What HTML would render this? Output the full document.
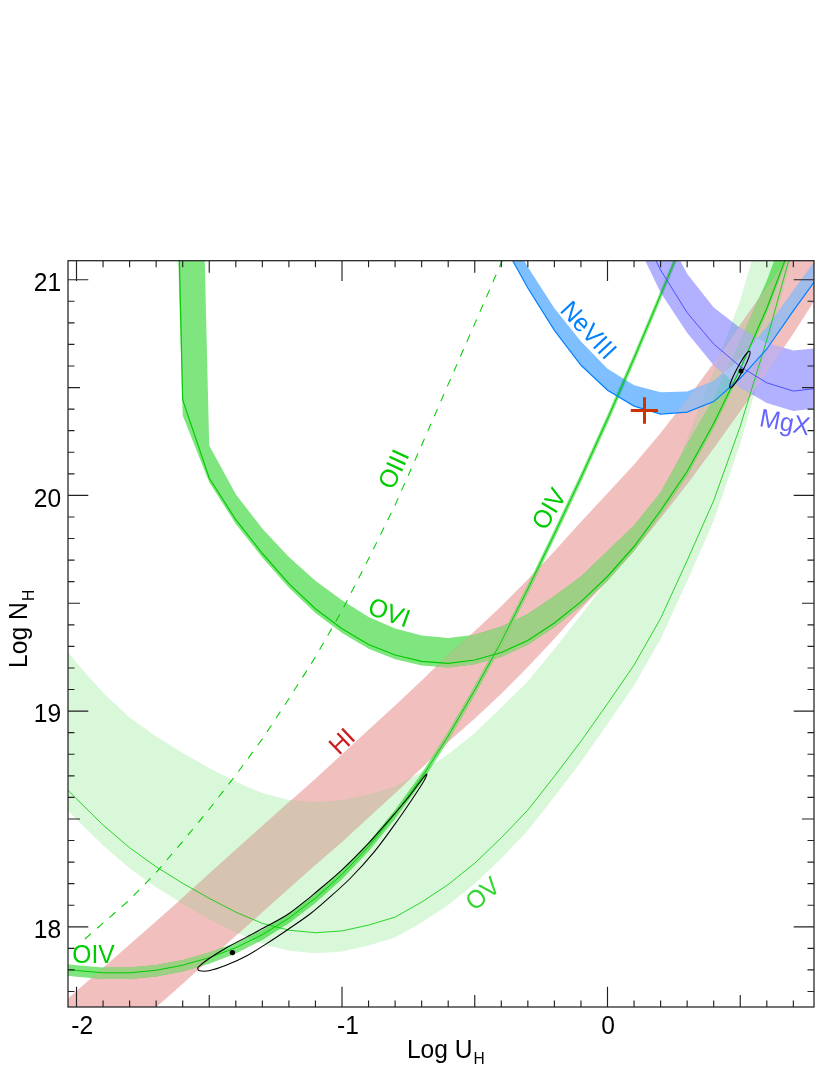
<!DOCTYPE html>
<html><head><meta charset="utf-8"><title>Log N_H vs Log U_H</title>
<style>
html,body{margin:0;padding:0;background:#fff;}
body{width:830px;height:1075px;position:relative;overflow:hidden;font-family:"Liberation Sans",sans-serif;}
</style></head><body>
<svg width="830" height="1075" viewBox="0 0 830 1075" style="position:absolute;left:0;top:0;will-change:transform">
<defs><clipPath id="cp"><rect x="68.0" y="260.7" width="746.0" height="746.3"/></clipPath></defs>
<rect x="0" y="0" width="830" height="1075" fill="#fff"/>
<g clip-path="url(#cp)">
<clipPath id="chi"><path d="M49.9,1014.4 L76.5,991.1 L103.1,967.8 L129.6,944.5 L156.2,921.2 L182.7,897.7 L209.2,873.7 L235.8,849.8 L262.4,826.0 L288.9,802.3 L315.4,778.7 L342.0,754.2 L368.6,729.7 L395.1,705.6 L421.7,680.6 L448.2,654.5 L474.8,630.9 L501.3,606.2 L527.8,579.5 L554.4,551.3 L581.0,521.8 L607.5,493.2 L634.1,464.5 L660.6,433.0 L687.1,399.1 L713.7,363.0 L740.2,325.0 L766.8,287.0 L793.4,247.5 L819.9,206.0 L819.9,292.0 L793.4,333.5 L766.8,373.0 L740.2,411.0 L713.7,448.0 L687.1,484.1 L660.6,518.0 L634.1,550.5 L607.5,580.7 L581.0,609.3 L554.4,638.8 L527.8,667.0 L501.3,693.7 L474.8,718.4 L448.2,742.0 L421.7,768.1 L395.1,793.1 L368.6,817.2 L342.0,841.7 L315.4,864.7 L288.9,888.3 L262.4,912.0 L235.8,935.8 L209.2,959.7 L182.7,983.7 L156.2,1007.2 L129.6,1030.5 L103.1,1053.8 L76.5,1077.1 L49.9,1100.4Z"/></clipPath>
<clipPath id="cov"><path d="M49.9,628.8 L76.5,662.8 L103.1,692.8 L129.6,717.4 L156.2,736.5 L182.7,753.0 L209.2,768.0 L235.8,781.8 L262.4,793.1 L288.9,799.9 L315.4,802.4 L342.0,800.6 L368.6,794.8 L395.1,786.8 L421.7,771.8 L448.2,754.2 L474.8,732.9 L501.3,707.4 L527.8,681.5 L554.4,649.0 L581.0,615.0 L607.5,580.0 L634.1,545.0 L660.6,504.5 L687.1,439.4 L713.7,372.0 L740.2,300.0 L766.8,209.7 L793.4,113.0 L819.9,9.7 L819.9,149.0 L793.4,252.3 L766.8,350.0 L740.2,443.9 L713.7,521.1 L687.1,581.2 L660.6,638.9 L634.1,685.5 L607.5,724.1 L581.0,761.7 L554.4,796.8 L527.8,830.6 L501.3,858.2 L474.8,883.7 L448.2,905.0 L421.7,922.6 L395.1,937.6 L368.6,945.6 L342.0,951.4 L315.4,953.2 L288.9,950.7 L262.4,943.9 L235.8,932.6 L209.2,918.8 L182.7,903.8 L156.2,887.3 L129.6,868.2 L103.1,845.6 L76.5,819.3 L49.9,792.5Z"/></clipPath>
<clipPath id="covi"><path d="M182.7,-660.0 L209.2,445.5 L235.8,494.3 L262.4,528.7 L288.9,557.0 L315.4,580.8 L342.0,600.3 L368.6,617.1 L395.1,628.4 L421.7,635.4 L448.2,637.9 L474.8,634.7 L501.3,626.6 L527.8,614.0 L554.4,596.0 L581.0,576.6 L607.5,551.0 L634.1,525.5 L660.6,492.5 L687.1,444.5 L713.7,398.5 L740.2,340.9 L766.8,280.4 L793.4,210.0 L819.9,132.0 L819.9,164.2 L793.4,242.2 L766.8,312.6 L740.2,373.1 L713.7,427.7 L687.1,475.7 L660.6,514.7 L634.1,550.7 L607.5,580.7 L581.0,605.8 L554.4,627.2 L527.8,644.7 L501.3,656.7 L474.8,664.2 L448.2,667.5 L421.7,665.5 L395.1,659.2 L368.6,648.7 L342.0,632.9 L315.4,612.9 L288.9,587.8 L262.4,557.7 L235.8,523.9 L209.2,482.2 L182.7,415.4 L156.2,-520.0Z"/></clipPath>
<path d="M49.9,1014.4 L76.5,991.1 L103.1,967.8 L129.6,944.5 L156.2,921.2 L182.7,897.7 L209.2,873.7 L235.8,849.8 L262.4,826.0 L288.9,802.3 L315.4,778.7 L342.0,754.2 L368.6,729.7 L395.1,705.6 L421.7,680.6 L448.2,654.5 L474.8,630.9 L501.3,606.2 L527.8,579.5 L554.4,551.3 L581.0,521.8 L607.5,493.2 L634.1,464.5 L660.6,433.0 L687.1,399.1 L713.7,363.0 L740.2,325.0 L766.8,287.0 L793.4,247.5 L819.9,206.0 L819.9,292.0 L793.4,333.5 L766.8,373.0 L740.2,411.0 L713.7,448.0 L687.1,484.1 L660.6,518.0 L634.1,550.5 L607.5,580.7 L581.0,609.3 L554.4,638.8 L527.8,667.0 L501.3,693.7 L474.8,718.4 L448.2,742.0 L421.7,768.1 L395.1,793.1 L368.6,817.2 L342.0,841.7 L315.4,864.7 L288.9,888.3 L262.4,912.0 L235.8,935.8 L209.2,959.7 L182.7,983.7 L156.2,1007.2 L129.6,1030.5 L103.1,1053.8 L76.5,1077.1 L49.9,1100.4Z" fill="rgb(242,191,191)"/>
<path d="M49.9,628.8 L76.5,662.8 L103.1,692.8 L129.6,717.4 L156.2,736.5 L182.7,753.0 L209.2,768.0 L235.8,781.8 L262.4,793.1 L288.9,799.9 L315.4,802.4 L342.0,800.6 L368.6,794.8 L395.1,786.8 L421.7,771.8 L448.2,754.2 L474.8,732.9 L501.3,707.4 L527.8,681.5 L554.4,649.0 L581.0,615.0 L607.5,580.0 L634.1,545.0 L660.6,504.5 L687.1,439.4 L713.7,372.0 L740.2,300.0 L766.8,209.7 L793.4,113.0 L819.9,9.7 L819.9,149.0 L793.4,252.3 L766.8,350.0 L740.2,443.9 L713.7,521.1 L687.1,581.2 L660.6,638.9 L634.1,685.5 L607.5,724.1 L581.0,761.7 L554.4,796.8 L527.8,830.6 L501.3,858.2 L474.8,883.7 L448.2,905.0 L421.7,922.6 L395.1,937.6 L368.6,945.6 L342.0,951.4 L315.4,953.2 L288.9,950.7 L262.4,943.9 L235.8,932.6 L209.2,918.8 L182.7,903.8 L156.2,887.3 L129.6,868.2 L103.1,845.6 L76.5,819.3 L49.9,792.5Z" fill="rgb(0,204,0)" fill-opacity="0.15"/>
<g clip-path="url(#chi)"><path d="M49.9,628.8 L76.5,662.8 L103.1,692.8 L129.6,717.4 L156.2,736.5 L182.7,753.0 L209.2,768.0 L235.8,781.8 L262.4,793.1 L288.9,799.9 L315.4,802.4 L342.0,800.6 L368.6,794.8 L395.1,786.8 L421.7,771.8 L448.2,754.2 L474.8,732.9 L501.3,707.4 L527.8,681.5 L554.4,649.0 L581.0,615.0 L607.5,580.0 L634.1,545.0 L660.6,504.5 L687.1,439.4 L713.7,372.0 L740.2,300.0 L766.8,209.7 L793.4,113.0 L819.9,9.7 L819.9,149.0 L793.4,252.3 L766.8,350.0 L740.2,443.9 L713.7,521.1 L687.1,581.2 L660.6,638.9 L634.1,685.5 L607.5,724.1 L581.0,761.7 L554.4,796.8 L527.8,830.6 L501.3,858.2 L474.8,883.7 L448.2,905.0 L421.7,922.6 L395.1,937.6 L368.6,945.6 L342.0,951.4 L315.4,953.2 L288.9,950.7 L262.4,943.9 L235.8,932.6 L209.2,918.8 L182.7,903.8 L156.2,887.3 L129.6,868.2 L103.1,845.6 L76.5,819.3 L49.9,792.5Z" fill="rgb(214,195,176)"/></g>
<path d="M182.7,-660.0 L209.2,445.5 L235.8,494.3 L262.4,528.7 L288.9,557.0 L315.4,580.8 L342.0,600.3 L368.6,617.1 L395.1,628.4 L421.7,635.4 L448.2,637.9 L474.8,634.7 L501.3,626.6 L527.8,614.0 L554.4,596.0 L581.0,576.6 L607.5,551.0 L634.1,525.5 L660.6,492.5 L687.1,444.5 L713.7,398.5 L740.2,340.9 L766.8,280.4 L793.4,210.0 L819.9,132.0 L819.9,164.2 L793.4,242.2 L766.8,312.6 L740.2,373.1 L713.7,427.7 L687.1,475.7 L660.6,514.7 L634.1,550.7 L607.5,580.7 L581.0,605.8 L554.4,627.2 L527.8,644.7 L501.3,656.7 L474.8,664.2 L448.2,667.5 L421.7,665.5 L395.1,659.2 L368.6,648.7 L342.0,632.9 L315.4,612.9 L288.9,587.8 L262.4,557.7 L235.8,523.9 L209.2,482.2 L182.7,415.4 L156.2,-520.0Z" fill="rgb(0,204,0)" fill-opacity="0.5"/>
<g clip-path="url(#chi)"><path d="M182.7,-660.0 L209.2,445.5 L235.8,494.3 L262.4,528.7 L288.9,557.0 L315.4,580.8 L342.0,600.3 L368.6,617.1 L395.1,628.4 L421.7,635.4 L448.2,637.9 L474.8,634.7 L501.3,626.6 L527.8,614.0 L554.4,596.0 L581.0,576.6 L607.5,551.0 L634.1,525.5 L660.6,492.5 L687.1,444.5 L713.7,398.5 L740.2,340.9 L766.8,280.4 L793.4,210.0 L819.9,132.0 L819.9,164.2 L793.4,242.2 L766.8,312.6 L740.2,373.1 L713.7,427.7 L687.1,475.7 L660.6,514.7 L634.1,550.7 L607.5,580.7 L581.0,605.8 L554.4,627.2 L527.8,644.7 L501.3,656.7 L474.8,664.2 L448.2,667.5 L421.7,665.5 L395.1,659.2 L368.6,648.7 L342.0,632.9 L315.4,612.9 L288.9,587.8 L262.4,557.7 L235.8,523.9 L209.2,482.2 L182.7,415.4 L156.2,-520.0Z" fill="rgb(157,207,133)"/></g>
<path d="M49.9,962.2 L76.5,965.2 L103.1,967.5 L129.6,967.5 L156.2,965.0 L182.7,959.9 L209.2,952.6 L235.8,942.8 L262.4,930.0 L288.9,913.7 L315.4,893.9 L342.0,870.2 L368.6,842.2 L395.1,809.7 L421.7,773.2 L448.2,731.7 L474.8,685.7 L501.3,637.2 L527.8,584.7 L554.4,529.7 L581.0,473.2 L607.5,414.7 L634.1,353.7 L660.6,290.7 L687.1,226.7 L687.1,235.8 L660.6,299.8 L634.1,362.8 L607.5,423.8 L581.0,482.3 L554.4,538.8 L527.8,593.8 L501.3,646.3 L474.8,694.8 L448.2,740.8 L421.7,782.3 L395.1,818.8 L368.6,851.3 L342.0,879.3 L315.4,903.0 L288.9,923.3 L262.4,940.1 L235.8,953.4 L209.2,963.7 L182.7,971.5 L156.2,976.6 L129.6,979.1 L103.1,979.1 L76.5,976.8 L49.9,973.8Z" fill="rgb(0,204,0)" fill-opacity="0.5"/>
<g clip-path="url(#chi)"><path d="M49.9,962.2 L76.5,965.2 L103.1,967.5 L129.6,967.5 L156.2,965.0 L182.7,959.9 L209.2,952.6 L235.8,942.8 L262.4,930.0 L288.9,913.7 L315.4,893.9 L342.0,870.2 L368.6,842.2 L395.1,809.7 L421.7,773.2 L448.2,731.7 L474.8,685.7 L501.3,637.2 L527.8,584.7 L554.4,529.7 L581.0,473.2 L607.5,414.7 L634.1,353.7 L660.6,290.7 L687.1,226.7 L687.1,235.8 L660.6,299.8 L634.1,362.8 L607.5,423.8 L581.0,482.3 L554.4,538.8 L527.8,593.8 L501.3,646.3 L474.8,694.8 L448.2,740.8 L421.7,782.3 L395.1,818.8 L368.6,851.3 L342.0,879.3 L315.4,903.0 L288.9,923.3 L262.4,940.1 L235.8,953.4 L209.2,963.7 L182.7,971.5 L156.2,976.6 L129.6,979.1 L103.1,979.1 L76.5,976.8 L49.9,973.8Z" fill="rgb(157,207,133)"/></g>
<path d="M501.3,220.0 L527.8,267.0 L554.4,308.3 L581.0,341.4 L607.5,368.8 L634.1,385.3 L660.6,392.3 L687.1,391.6 L713.7,381.0 L740.2,358.3 L766.8,327.2 L793.4,290.6 L819.9,254.0 L819.9,274.0 L793.4,310.6 L766.8,349.0 L740.2,378.3 L713.7,401.6 L687.1,412.1 L660.6,414.1 L634.1,406.1 L607.5,390.3 L581.0,365.3 L554.4,330.3 L527.8,288.0 L501.3,240.0Z" fill="rgb(0,128,255)" fill-opacity="0.5"/>
<path d="M660.6,223.6 L687.1,273.8 L713.7,307.5 L740.2,328.0 L766.8,343.0 L793.4,350.5 L819.9,348.0 L819.9,407.7 L793.4,410.9 L766.8,402.9 L740.2,387.8 L713.7,365.3 L687.1,332.7 L660.6,292.6 L634.1,237.6Z" fill="rgb(100,100,255)" fill-opacity="0.5"/>
<g clip-path="url(#chi)"><path d="M501.3,220.0 L527.8,267.0 L554.4,308.3 L581.0,341.4 L607.5,368.8 L634.1,385.3 L660.6,392.3 L687.1,391.6 L713.7,381.0 L740.2,358.3 L766.8,327.2 L793.4,290.6 L819.9,254.0 L819.9,274.0 L793.4,310.6 L766.8,349.0 L740.2,378.3 L713.7,401.6 L687.1,412.1 L660.6,414.1 L634.1,406.1 L607.5,390.3 L581.0,365.3 L554.4,330.3 L527.8,288.0 L501.3,240.0Z" fill="#fff" fill-opacity="0.3"/><path d="M660.6,223.6 L687.1,273.8 L713.7,307.5 L740.2,328.0 L766.8,343.0 L793.4,350.5 L819.9,348.0 L819.9,407.7 L793.4,410.9 L766.8,402.9 L740.2,387.8 L713.7,365.3 L687.1,332.7 L660.6,292.6 L634.1,237.6Z" fill="#fff" fill-opacity="0.3"/></g>
<path d="M49.9,772.0 L76.5,798.8 L103.1,825.1 L129.6,847.7 L156.2,866.8 L182.7,883.3 L209.2,898.3 L235.8,912.1 L262.4,923.4 L288.9,930.2 L315.4,932.7 L342.0,930.9 L368.6,925.1 L395.1,917.1 L421.7,902.1 L448.2,884.5 L474.8,863.2 L501.3,837.7 L527.8,810.1 L554.4,776.3 L581.0,741.2 L607.5,703.6 L634.1,665.0 L660.6,618.4 L687.1,560.7 L713.7,500.6 L740.2,426.4 L766.8,340.0 L793.4,243.3 L819.9,140.0" fill="none" stroke="rgb(0,204,0)" stroke-opacity="0.8" stroke-width="1"/>
<path d="M156.2,-715.0 L182.7,399.9 L209.2,478.0 L235.8,519.7 L262.4,553.5 L288.9,583.6 L315.4,608.7 L342.0,628.7 L368.6,644.5 L395.1,655.0 L421.7,661.3 L448.2,663.3 L474.8,660.0 L501.3,652.5 L527.8,640.5 L554.4,623.0 L581.0,601.6 L607.5,576.5 L634.1,546.5 L660.6,510.5 L687.1,471.5 L713.7,423.5 L740.2,368.9 L766.8,308.4 L793.4,238.0 L819.9,160.0" fill="none" stroke="rgb(0,204,0)" stroke-width="1.2"/>
<path d="M49.9,967.5 L76.5,970.5 L103.1,972.8 L129.6,972.8 L156.2,970.3 L182.7,965.2 L209.2,957.7 L235.8,947.7 L262.4,934.7 L288.9,918.2 L315.4,898.2 L342.0,874.5 L368.6,846.5 L395.1,814.0 L421.7,777.5 L448.2,736.0 L474.8,690.0 L501.3,641.5 L527.8,589.0 L554.4,534.0 L581.0,477.5 L607.5,419.0 L634.1,358.0 L660.6,295.0 L687.1,231.0" fill="none" stroke="rgb(0,204,0)" stroke-width="1"/>
<path d="M85.0,939.0 L103.0,923.2 L129.6,899.8 L156.2,872.4 L182.7,841.5 L209.2,809.2 L235.8,775.0 L262.4,738.9 L288.9,698.7 L315.4,657.0 L342.0,610.6 L368.6,558.8 L395.1,505.1 L421.6,445.3 L448.2,384.4 L474.8,323.6 L501.3,262.8 L527.9,198.0" fill="none" stroke="rgb(0,204,0)" stroke-width="1.05" stroke-dasharray="8 8.27"/>
<path d="M501.3,240.0 L527.8,288.0 L554.4,330.3 L581.0,365.3 L607.5,390.3 L634.1,406.1 L660.6,414.1 L687.1,412.1 L713.7,401.6 L740.2,378.3 L766.8,349.0 L793.4,310.6 L819.9,274.0" fill="none" stroke="rgb(0,128,255)" stroke-width="1.2"/>
<path d="M634.1,217.4 L660.6,270.0 L687.1,312.6 L713.7,344.0 L740.2,366.5 L766.8,382.8 L793.4,391.1 L819.9,388.0" fill="none" stroke="rgb(80,80,255)" stroke-width="1"/>
<path d="M198.0,968.9 C197.9,968.2 196.9,968.4 198.7,966.7 C200.5,965.0 204.2,961.9 208.8,958.8 C213.4,955.7 219.6,951.7 226.1,948.0 C232.6,944.3 241.1,940.0 247.8,936.4 C254.6,932.8 259.9,930.0 266.6,926.3 C273.4,922.6 281.1,918.8 288.3,914.0 C295.5,909.2 305.2,901.0 310.0,897.3 C314.8,893.5 311.5,896.1 316.9,891.5 C322.3,886.9 333.8,877.5 342.2,869.6 C350.6,861.7 359.9,852.3 367.5,844.3 C375.1,836.3 381.0,829.3 387.7,821.6 C394.4,813.9 401.6,805.8 407.9,798.0 C414.2,790.2 422.9,777.6 425.6,774.8 C428.3,772.0 426.3,776.7 423.9,781.0 C421.5,785.3 416.2,793.2 411.3,800.5 C406.4,807.8 400.6,816.3 394.4,824.9 C388.2,833.5 381.5,843.0 374.2,851.9 C366.9,860.8 358.5,870.0 350.6,878.0 C342.7,886.0 333.8,893.6 327.0,899.6 C320.2,905.6 316.4,909.1 310.0,914.0 C303.6,918.9 295.5,924.3 288.3,929.2 C281.1,934.1 273.4,939.3 266.6,943.6 C259.9,947.9 254.6,951.6 247.8,955.2 C241.1,958.8 232.6,962.7 226.1,965.3 C219.6,967.9 213.2,969.9 208.8,970.8 C204.4,971.7 201.2,971.1 199.4,970.8 C197.6,970.5 198.1,969.6 198.0,968.9Z" fill="none" stroke="#000" stroke-width="1.05"/>
<g transform="translate(739.9,369.6) rotate(-62)"><ellipse cx="0" cy="0" rx="20.8" ry="3.0" fill="none" stroke="#000" stroke-width="1"/></g>
<circle cx="232.4" cy="952.6" r="2.7" fill="#000"/>
<circle cx="741.0" cy="371.0" r="2.5" fill="#000"/>
<path d="M630.8,410.4H658M644.5,397.2V423.7" stroke="rgb(204,51,0)" stroke-width="3" fill="none"/>
</g>
<text transform="translate(393.1,490.8) rotate(-65) scale(0.9609,1)" font-family="Liberation Sans, sans-serif" font-size="25.6" fill="rgb(0,204,0)" >OIII</text>
<text transform="translate(545.4,531.4) rotate(-59) scale(0.9609,1)" font-family="Liberation Sans, sans-serif" font-size="25.6" fill="rgb(0,204,0)" >OIV</text>
<text transform="translate(72.3,962.7) rotate(0) scale(0.9609,1)" font-family="Liberation Sans, sans-serif" font-size="25.6" fill="rgb(0,204,0)" >OIV</text>
<text transform="translate(366.4,613.4) rotate(20) scale(0.9609,1)" font-family="Liberation Sans, sans-serif" font-size="25.6" fill="rgb(0,204,0)" >OVI</text>
<text transform="translate(474.6,911.7) rotate(-40) scale(0.9609,1)" font-family="Liberation Sans, sans-serif" font-size="25.6" fill="rgb(0,204,0)" fill-opacity="0.8">OV</text>
<text transform="translate(338.9,756.0) rotate(-43.7) scale(0.9609,1)" font-family="Liberation Sans, sans-serif" font-size="25.6" fill="rgb(204,30,30)" >HI</text>
<text transform="translate(559.0,311.0) rotate(47) scale(0.9609,1)" font-family="Liberation Sans, sans-serif" font-size="25.6" fill="rgb(0,128,255)" >NeVIII</text>
<text transform="translate(758.5,426.1) rotate(10.5) scale(0.9609,1)" font-family="Liberation Sans, sans-serif" font-size="25.6" fill="rgb(100,100,255)" >MgX</text>
<path d="M76.50,1007.0v-20.3M76.50,260.7v20.3M103.05,1007.0v-6.5M103.05,260.7v6.5M129.60,1007.0v-6.5M129.60,260.7v6.5M156.15,1007.0v-6.5M156.15,260.7v6.5M182.70,1007.0v-6.5M182.70,260.7v6.5M209.25,1007.0v-12M209.25,260.7v12M235.80,1007.0v-6.5M235.80,260.7v6.5M262.35,1007.0v-6.5M262.35,260.7v6.5M288.90,1007.0v-6.5M288.90,260.7v6.5M315.45,1007.0v-6.5M315.45,260.7v6.5M342.00,1007.0v-20.3M342.00,260.7v20.3M368.55,1007.0v-6.5M368.55,260.7v6.5M395.10,1007.0v-6.5M395.10,260.7v6.5M421.65,1007.0v-6.5M421.65,260.7v6.5M448.20,1007.0v-6.5M448.20,260.7v6.5M474.75,1007.0v-12M474.75,260.7v12M501.30,1007.0v-6.5M501.30,260.7v6.5M527.85,1007.0v-6.5M527.85,260.7v6.5M554.40,1007.0v-6.5M554.40,260.7v6.5M580.95,1007.0v-6.5M580.95,260.7v6.5M607.50,1007.0v-20.3M607.50,260.7v20.3M634.05,1007.0v-6.5M634.05,260.7v6.5M660.60,1007.0v-6.5M660.60,260.7v6.5M687.15,1007.0v-6.5M687.15,260.7v6.5M713.70,1007.0v-6.5M713.70,260.7v6.5M740.25,1007.0v-12M740.25,260.7v12M766.80,1007.0v-6.5M766.80,260.7v6.5M793.35,1007.0v-6.5M793.35,260.7v6.5M68.0,991.51h6.5M814.0,991.51h-6.5M68.0,969.94h6.5M814.0,969.94h-6.5M68.0,948.37h6.5M814.0,948.37h-6.5M68.0,926.80h20.3M814.0,926.80h-20.3M68.0,905.23h6.5M814.0,905.23h-6.5M68.0,883.66h6.5M814.0,883.66h-6.5M68.0,862.09h6.5M814.0,862.09h-6.5M68.0,840.52h6.5M814.0,840.52h-6.5M68.0,818.95h12M814.0,818.95h-12M68.0,797.38h6.5M814.0,797.38h-6.5M68.0,775.81h6.5M814.0,775.81h-6.5M68.0,754.24h6.5M814.0,754.24h-6.5M68.0,732.67h6.5M814.0,732.67h-6.5M68.0,711.10h20.3M814.0,711.10h-20.3M68.0,689.53h6.5M814.0,689.53h-6.5M68.0,667.96h6.5M814.0,667.96h-6.5M68.0,646.39h6.5M814.0,646.39h-6.5M68.0,624.82h6.5M814.0,624.82h-6.5M68.0,603.25h12M814.0,603.25h-12M68.0,581.68h6.5M814.0,581.68h-6.5M68.0,560.11h6.5M814.0,560.11h-6.5M68.0,538.54h6.5M814.0,538.54h-6.5M68.0,516.97h6.5M814.0,516.97h-6.5M68.0,495.40h20.3M814.0,495.40h-20.3M68.0,473.83h6.5M814.0,473.83h-6.5M68.0,452.26h6.5M814.0,452.26h-6.5M68.0,430.69h6.5M814.0,430.69h-6.5M68.0,409.12h6.5M814.0,409.12h-6.5M68.0,387.55h12M814.0,387.55h-12M68.0,365.98h6.5M814.0,365.98h-6.5M68.0,344.41h6.5M814.0,344.41h-6.5M68.0,322.84h6.5M814.0,322.84h-6.5M68.0,301.27h6.5M814.0,301.27h-6.5M68.0,279.70h20.3M814.0,279.70h-20.3" stroke="#222" stroke-width="1.15" fill="none"/>
<rect x="68.0" y="260.7" width="746.0" height="746.3" fill="none" stroke="#222" stroke-width="1.25"/>
<text transform="translate(71.3,1034.4) scale(0.9609,1)" font-family="Liberation Sans, sans-serif" font-size="25.6" fill="#000" text-anchor="start">-2</text>
<text transform="translate(337.0,1034.4) scale(0.9609,1)" font-family="Liberation Sans, sans-serif" font-size="25.6" fill="#000" text-anchor="start">-1</text>
<text transform="translate(608.0,1034.4) scale(0.9609,1)" font-family="Liberation Sans, sans-serif" font-size="25.6" fill="#000" text-anchor="middle">0</text>
<text transform="translate(61.2,290.9) scale(0.9609,1)" font-family="Liberation Sans, sans-serif" font-size="25.6" fill="#000" text-anchor="end">21</text>
<text transform="translate(61.2,506.59999999999997) scale(0.9609,1)" font-family="Liberation Sans, sans-serif" font-size="25.6" fill="#000" text-anchor="end">20</text>
<text transform="translate(61.2,722.3) scale(0.9609,1)" font-family="Liberation Sans, sans-serif" font-size="25.6" fill="#000" text-anchor="end">19</text>
<text transform="translate(61.2,938.0) scale(0.9609,1)" font-family="Liberation Sans, sans-serif" font-size="25.6" fill="#000" text-anchor="end">18</text>
<text transform="translate(406.9,1058.4) scale(0.9609,1)" font-family="Liberation Sans, sans-serif" font-size="25.6" fill="#000" text-anchor="start">Log U</text>
<text transform="translate(473.6,1063.8) scale(0.9609,1)" font-family="Liberation Sans, sans-serif" font-size="16.2" fill="#000" text-anchor="start">H</text>
<text transform="translate(27.2,667.9) rotate(-90) scale(0.9609,1)" font-family="Liberation Sans, sans-serif" font-size="25.6" fill="#000">Log N</text>
<text transform="translate(33.9,601.0) rotate(-90) scale(0.9609,1)" font-family="Liberation Sans, sans-serif" font-size="16.2" fill="#000">H</text>
</svg>
</body></html>
